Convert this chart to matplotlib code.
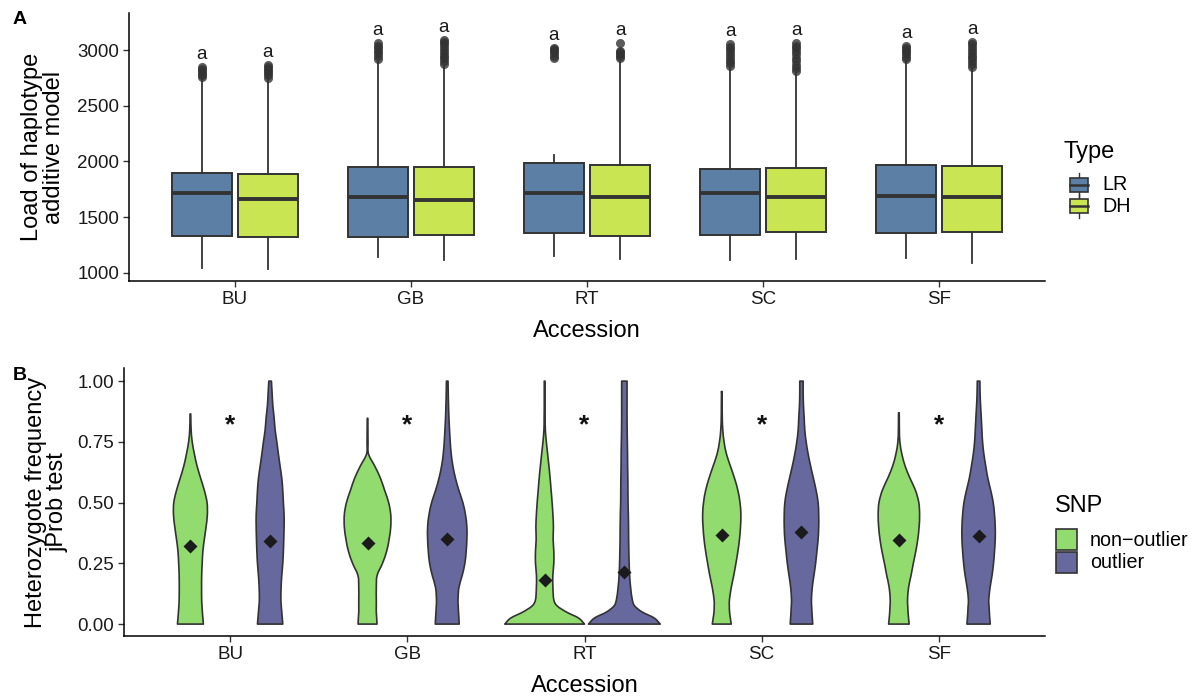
import numpy as np
import matplotlib
matplotlib.use("Agg")
import matplotlib.pyplot as plt
from matplotlib.patches import Rectangle, PathPatch
from matplotlib.path import Path

plt.rcParams['font.family'] = ['Liberation Sans', 'DejaVu Sans']

accessions = ["BU", "GB", "RT", "SC", "SF"]

# --- panel A: load of haplotype (additive model), boxplot summaries ---
types = ["LR", "DH"]
type_colors = {"LR": "#5C7FA5", "DH": "#C9E652"}
load_q1 = {"LR": [1334, 1326, 1356, 1344, 1356], "DH": [1326, 1338, 1332, 1370, 1370]}
load_med = {"LR": [1715, 1682, 1715, 1717, 1690], "DH": [1664, 1657, 1684, 1684, 1684]}
load_q3 = {"LR": [1894, 1954, 1984, 1936, 1969], "DH": [1885, 1954, 1971, 1939, 1960]}
load_lo = {"LR": [1042, 1143, 1155, 1117, 1132], "DH": [1039, 1117, 1123, 1125, 1087]}
load_hi = {"LR": [2740, 2900, 2058, 2840, 2900], "DH": [2740, 2860, 2900, 2790, 2830]}
load_fliers = {
    "LR": [
        [2755, 2775, 2795, 2815, 2830, 2845],
        [2920, 2945, 2970, 2995, 3020, 3040, 3060],
        [2930, 2950, 2970, 2990, 3005, 3020],
        [2856, 2880, 2905, 2930, 2955, 2980, 3005, 3030, 3054],
        [2917, 2940, 2960, 2980, 3000, 3020, 3039],
    ],
    "DH": [
        [2752, 2772, 2792, 2812, 2830, 2850, 2865],
        [2877, 2900, 2925, 2950, 2975, 3000, 3025, 3050, 3070, 3090],
        [2926, 2945, 2960, 2978, 2994, 3065],
        [2812, 2840, 2870, 2900, 2930, 2960, 2990, 3020, 3040, 3060],
        [2851, 2875, 2900, 2925, 2950, 2975, 3000, 3025, 3050, 3075],
    ],
}
load_letters = {"LR": ["a"] * 5, "DH": ["a"] * 5}

# --- panel B: heterozygote frequency (jProb test), violins ---
snp_types = ["non-outlier", "outlier"]
snp_labels = ["non\u2212outlier", "outlier"]
snp_colors = {"non-outlier": "#92DB6E", "outlier": "#67689E"}
het_means = {"non-outlier": [0.323, 0.335, 0.181, 0.368, 0.346],
             "outlier": [0.342, 0.349, 0.215, 0.378, 0.364]}
het_max = {"non-outlier": [0.865, 0.847, 1.0, 0.956, 0.87],
           "outlier": [1.0, 1.0, 1.0, 1.0, 1.0]}
density_levels = [0, 0.025, 0.05, 0.075, 0.1, 0.15, 0.2, 0.25, 0.3, 0.35, 0.4,
                  0.45, 0.5, 0.55, 0.6, 0.65, 0.7, 0.75, 0.8, 0.85, 0.9, 0.95, 1.0]
# relative density at each level below the maximum, last value is at the maximum
het_density = {
    "non-outlier": [
        [13, 12.5, 12, 11.6, 11.3, 11.2, 11.3, 11.8, 12.5, 14, 15.7, 17, 16.7, 14,
         10.3, 6.7, 4, 1.8, 0.7, 0.4, 0.3],
        [9.5, 9.2, 8.8, 8.8, 8.8, 8.8, 9.6, 15, 19.2, 21.7, 23.3, 23.3, 21.2, 17.2,
         13, 7.3, 1, 0.5, 0.4, 0.3],
        [40, 34, 21.7, 12.5, 9.2, 8.3, 8.2, 9.2, 9.2, 8.5, 8.8, 8.3, 7.5, 6.5,
         5.5, 4.3, 3, 1.7, 0.7, 0.5, 0.4, 0.4, 0.4],
        [9.5, 8.6, 7.8, 7.6, 7.7, 9.5, 12, 14.2, 16.2, 17.8, 18.8, 19.2, 18.3, 16.2,
         12.8, 8.7, 4.7, 2.3, 1, 0.5, 0.4, 0.3, 0.3],
        [10.3, 9.7, 9.2, 8.9, 8.7, 9.7, 12.2, 14.5, 17, 19, 20.3, 20.8, 20, 16.7,
         11.2, 6.3, 3, 1, 0.5, 0.4, 0.3],
    ],
    "outlier": [
        [12.7, 12.2, 11.7, 11.2, 10.8, 11, 11.7, 12.7, 13.3, 13.7, 14, 14, 13.3, 12.7,
         11.7, 10, 8.3, 6.7, 5, 4, 2.7, 2, 1.3],
        [12, 11.7, 11.3, 11, 10.8, 11.7, 15, 17.7, 19, 19.7, 19.7, 18.3, 15.7, 11.7,
         8.3, 5.7, 4, 3, 2.3, 1.7, 1.3, 1, 0.8],
        [36, 30, 17.8, 10.3, 8, 6.3, 5.3, 4.8, 4.5, 4.3, 4.2, 4, 3.7, 3.6,
         3.5, 3.3, 3.2, 3, 2.8, 2.7, 2.7, 2.7, 2.7],
        [11.3, 10.9, 10.5, 10.2, 10, 10.8, 12.5, 14.2, 15.5, 16.7, 17.3, 17.3, 16.7, 14.7,
         12, 9.2, 6.7, 4.7, 3.3, 2.7, 2, 1.7, 1.7],
        [11.7, 11.2, 10.8, 10.5, 10.2, 11.5, 13.5, 15, 16, 16.7, 16.7, 16, 14.7, 12.2,
         9.3, 7.2, 5.3, 4, 3.3, 2.7, 2, 1.5, 1.3],
    ],
}
het_signif = ["*"] * 5

EDGE = "#333333"
TICK_FS = 13.5
TITLE_FS = 17
W, H = 1193, 698
fig = plt.figure(figsize=(W / 100, H / 100), dpi=100)


def px_axes(left, top, right, bottom):
    return fig.add_axes([left / W, 1 - bottom / H, (right - left) / W, (bottom - top) / H])


def style_axes(ax):
    for side in ("top", "right"):
        ax.spines[side].set_visible(False)
    for side in ("left", "bottom"):
        ax.spines[side].set_linewidth(1.1)
    ax.tick_params(length=4, width=1.0, color=EDGE, labelsize=TICK_FS,
                   labelcolor="#1a1a1a", pad=3)


def smooth_side(pts):
    # Catmull-Rom through the outline points, expressed as cubic Bezier segments
    verts, codes = [], []
    n = len(pts)
    for k in range(n - 1):
        p0 = pts[max(k - 1, 0)]
        p1 = pts[k]
        p2 = pts[k + 1]
        p3 = pts[min(k + 2, n - 1)]
        c1 = p1 + (p2 - p0) / 6.0
        c2 = p2 - (p3 - p1) / 6.0
        verts += [c1, c2, p2]
        codes += [Path.CURVE4] * 3
    return verts, codes


def violin_patch(x0, ys, hw, color):
    left = np.column_stack([x0 - hw, ys])
    right = np.column_stack([x0 + hw, ys])[::-1]
    verts, codes = [left[0]], [Path.MOVETO]
    v, c = smooth_side(left)
    verts += v
    codes += c
    verts.append(right[0])
    codes.append(Path.LINETO)
    v, c = smooth_side(right)
    verts += v
    codes += c
    verts.append(left[0])
    codes.append(Path.CLOSEPOLY)
    return PathPatch(Path(np.array(verts), codes), facecolor=color, edgecolor=EDGE,
                     linewidth=1.2, joinstyle="round")


# ---------- panel A ----------
axA = px_axes(129, 13, 1045, 281)
offsets = {"LR": -0.1875, "DH": 0.1875}
for t in types:
    stats = []
    for i in range(len(accessions)):
        stats.append(dict(med=load_med[t][i], q1=load_q1[t][i], q3=load_q3[t][i],
                          whislo=load_lo[t][i], whishi=load_hi[t][i],
                          fliers=load_fliers[t][i]))
    pos = [i + offsets[t] for i in range(len(accessions))]
    axA.bxp(stats, positions=pos, widths=0.34, patch_artist=True, showcaps=False,
            boxprops=dict(facecolor=type_colors[t], edgecolor=EDGE, linewidth=1.4),
            medianprops=dict(color=EDGE, linewidth=2.8, solid_capstyle="butt"),
            whiskerprops=dict(color=EDGE, linewidth=1.3),
            flierprops=dict(marker="o", markersize=6.5, markerfacecolor=EDGE,
                            markeredgecolor="none", alpha=0.8))
    for i, p in enumerate(pos):
        axA.text(p, max(load_fliers[t][i]) + 112, load_letters[t][i], ha="center",
                 va="center", fontsize=TICK_FS, color="#1a1a1a")

axA.set_xlim(-0.6, 4.6)
axA.set_ylim(928, 3332)
axA.set_xticks(range(len(accessions)))
axA.set_xticklabels(accessions)
axA.set_yticks([1000, 1500, 2000, 2500, 3000])
axA.set_ylabel("Load of haplotype\nadditive model", fontsize=TITLE_FS, linespacing=1.0)
axA.yaxis.set_label_coords(-0.07, 0.5)
axA.set_xlabel("Accession", fontsize=TITLE_FS)
axA.xaxis.set_label_coords(0.5, -0.145)
style_axes(axA)

# ---------- panel B ----------
axB = px_axes(124, 368, 1045, 636)
dens_scale = 0.225 / max(max(max(d) for d in het_density[s]) for s in snp_types)
voffsets = {"non-outlier": -0.225, "outlier": 0.225}
for s in snp_types:
    for i in range(len(accessions)):
        top = het_max[s][i]
        ys = np.array([lv for lv in density_levels if lv < top] + [top])
        hw = np.array(het_density[s][i]) * dens_scale
        x0 = i + voffsets[s]
        axB.add_patch(violin_patch(x0, ys, hw, snp_colors[s]))
        axB.plot(x0, het_means[s][i], marker="D", markersize=7, color="#1b1b1b",
                 markeredgecolor="none", zorder=3)

for i, lab in enumerate(het_signif):
    axB.text(i, 0.82, lab, ha="center", va="center", fontsize=19, color="#111111",
             fontweight="bold")

axB.set_xlim(-0.6, 4.6)
axB.set_ylim(-0.049, 1.054)
axB.set_xticks(range(len(accessions)))
axB.set_xticklabels(accessions)
axB.set_yticks([0, 0.25, 0.5, 0.75, 1.0])
axB.set_yticklabels(["0.00", "0.25", "0.50", "0.75", "1.00"])
axB.set_ylabel("Heterozygote frequency\njProb test", fontsize=TITLE_FS, linespacing=1.0)
axB.yaxis.set_label_coords(-0.06, 0.5)
axB.set_xlabel("Accession", fontsize=TITLE_FS)
axB.xaxis.set_label_coords(0.5, -0.145)
style_axes(axB)

# ---------- panel letters and legends, drawn in pixel space ----------
ov = fig.add_axes([0, 0, 1, 1], facecolor="none")
ov.set_xlim(0, W)
ov.set_ylim(H, 0)
ov.axis("off")

ov.text(20, 20, "A", fontsize=14, fontweight="bold", ha="center", va="center")
ov.text(20, 376, "B", fontsize=14, fontweight="bold", ha="center", va="center")

ov.text(1064, 152, "Type", fontsize=TITLE_FS, ha="left", va="center")
for k, t in enumerate(types):
    y0 = 178 + k * 21
    ov.plot([1079, 1079], [y0 - 5, y0 + 19], color=EDGE, lw=1.0)
    ov.add_patch(Rectangle((1070, y0), 18, 14, facecolor=type_colors[t],
                           edgecolor=EDGE, lw=1.2, zorder=3))
    ov.plot([1070, 1088], [y0 + 7, y0 + 7], color=EDGE, lw=1.8, zorder=4)
    ov.text(1102, y0 + 7, t, fontsize=14.2, ha="left", va="center")

ov.text(1055, 506, "SNP", fontsize=TITLE_FS, ha="left", va="center")
for k, s in enumerate(snp_types):
    y0 = 529 + k * 23
    ov.add_patch(Rectangle((1056, y0), 21, 21, facecolor=snp_colors[s],
                           edgecolor=EDGE, lw=1.2))
    ov.text(1090, y0 + 11, snp_labels[k], fontsize=14.2, ha="left", va="center")

fig.savefig("out.png", dpi=100)
